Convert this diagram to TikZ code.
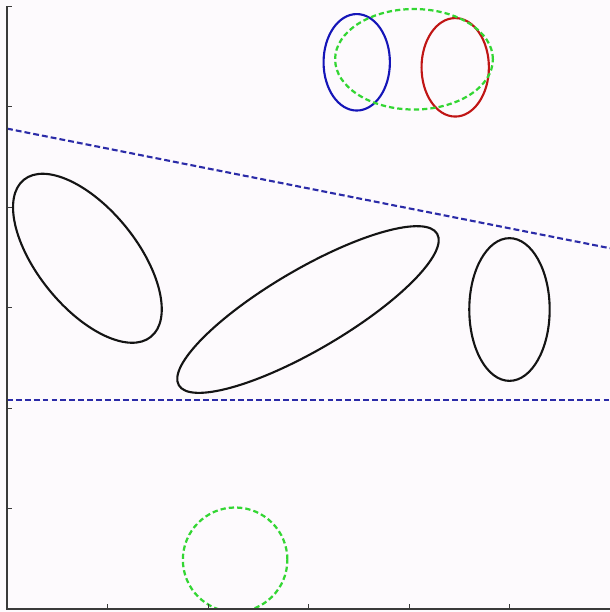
\documentclass[tikz,border=0pt]{standalone}
\usepackage{tikz}
\usepackage{xcolor}
\usetikzlibrary{calc}
\definecolor{paper}{HTML}{FDFAFD}
\definecolor{ink}{HTML}{141414}
\definecolor{axisgray}{HTML}{3A3A3A}
\definecolor{splitblue}{HTML}{2B2BA8}
\definecolor{clusterblue}{HTML}{1515B8}
\definecolor{clusterred}{HTML}{C01515}
\definecolor{clustergreen}{HTML}{33D633}
\tikzset{
  axisline/.style={draw=axisgray,line width=0.9pt},
  tickmark/.style={draw=axisgray,line width=0.8pt},
  blob/.style={draw=ink,line width=1.8pt},
  splitline/.style={draw=splitblue,line width=1.8pt,dash pattern=on 5pt off 2.6pt},
  bluering/.style={draw=clusterblue,line width=1.8pt},
  redring/.style={draw=clusterred,line width=1.8pt},
  greenring/.style={draw=clustergreen,line width=1.9pt,dash pattern=on 4.5pt off 2.6pt}
}

\begin{document}
\begin{tikzpicture}[x=3.015cm,y=3.015cm]
  \fill[paper] (-0.0697,-0.0299) rectangle (6.0,6.06);
  \useasboundingbox (-0.0697,-0.0299) rectangle (6.0,6.06);
  \begin{scope}
    \clip (0,0) rectangle (6.0,6.06);
    \draw[blob,rotate around={-51:(0.80,3.49)}] (0.80,3.49) ellipse [x radius=1.005,y radius=0.494];
    \draw[blob,rotate around={30.4:(2.995,2.98)}] (2.995,2.98) ellipse [x radius=1.49,y radius=0.40];
    \draw[blob] (5.0,2.98) ellipse [x radius=0.40,y radius=0.71];
    \draw[splitline] (0,4.78) -- (6.0,3.59);
    \draw[splitline] (0,2.08) -- (6.0,2.08);
    \draw[bluering] (3.48,5.44) ellipse [x radius=0.33,y radius=0.48];
    \draw[redring] (4.46,5.39) ellipse [x radius=0.335,y radius=0.49];
    \draw[greenring] (4.05,5.47) ellipse [x radius=0.785,y radius=0.50];
    \draw[greenring] (2.27,0.49) circle [radius=0.52];
  \end{scope}
  \draw[axisline] (0,6) -- (0,0) -- (6.0,0);
  \foreach \t in {1,...,6} {
    \draw[tickmark] (0,\t) -- (0.05,\t);
  }
  \foreach \t in {1,...,5} {
    \draw[tickmark] (\t,0) -- (\t,0.05);
  }
\end{tikzpicture}
\end{document}
